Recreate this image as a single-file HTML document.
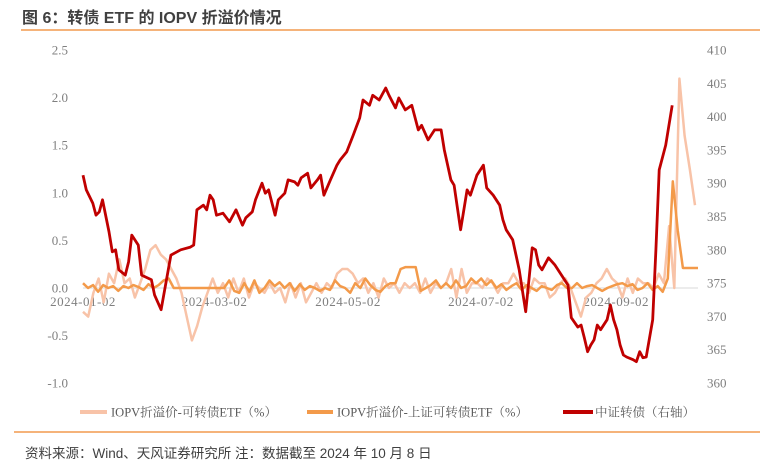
<!DOCTYPE html>
<html><head><meta charset="utf-8">
<style>
body{margin:0;background:#fff;width:760px;height:469px;overflow:hidden;font-family:"Liberation Sans","Noto Sans CJK SC",sans-serif;}
</style></head>
<body>
<svg width="760" height="469" viewBox="0 0 760 469" xmlns="http://www.w3.org/2000/svg">
<text x="22" y="23" font-size="16" font-weight="bold" fill="#404040" font-family="Liberation Sans, Noto Sans CJK SC, sans-serif">图 6：转债 ETF 的 IOPV 折溢价情况</text>
<line x1="21" y1="30" x2="760" y2="30" stroke="#f29a4f" stroke-width="1.5"/>
<g id="plot"></g>
<g id="legend" font-family="Liberation Serif, Noto Serif CJK SC, serif" font-size="12.5" fill="#595959">
<line x1="80" y1="412" x2="107" y2="412" stroke="#f8c3a8" stroke-width="4"/>
<text x="111" y="416.5">IOPV折溢价-可转债ETF（%）</text>
<line x1="307" y1="412" x2="333" y2="412" stroke="#f39a4a" stroke-width="4"/>
<text x="337" y="416.5">IOPV折溢价-上证可转债ETF（%）</text>
<line x1="563" y1="412" x2="593" y2="412" stroke="#c00000" stroke-width="4"/>
<text x="595" y="416.5">中证转债（右轴）</text>
</g>
<line x1="14" y1="432" x2="760" y2="432" stroke="#f29a4f" stroke-width="1.5"/>
<text x="25" y="458" font-size="13.5" fill="#404040">资料来源：Wind、天风证券研究所  注：数据截至 2024 年 10 月 8 日</text>
</svg>
<script>
const leftTicks=[2.5,2.0,1.5,1.0,0.5,0.0,-0.5,-1.0];
const leftTickLabels=["2.5","2.0","1.5","1.0","0.5","0.0","-0.5","-1.0"];
const rightTicks=[410,405,400,395,390,385,380,375,370,365,360];
const dateLabels=["2024-01-02","2024-03-02","2024-05-02","2024-07-02","2024-09-02"];
const dateFrac=[0.0,0.214,0.431,0.647,0.867];
const kzz=[-0.25,-0.3,-0.05,0.1,-0.15,0.15,0.05,0.3,0.05,0.1,-0.1,0.05,0.2,0.4,0.45,0.35,0.3,0.2,0.1,-0.05,-0.3,-0.55,-0.4,-0.2,-0.05,0.1,-0.05,0.05,-0.1,0.1,-0.05,0.1,-0.1,0.05,0.0,-0.05,0.05,-0.05,0.0,-0.15,0.05,-0.1,0.05,-0.15,-0.05,0.05,-0.05,0.05,0.0,0.15,0.2,0.2,0.15,0.05,0.1,-0.05,0.05,-0.1,0.1,0.0,0.05,-0.05,0.05,0.0,0.05,-0.05,0.1,-0.05,0.05,0.0,0.05,0.2,-0.1,0.2,-0.05,0.05,0.05,0.0,0.1,0.05,-0.05,0.05,0.05,0.15,0.05,0.05,-0.05,0.1,0.05,0.05,-0.1,-0.05,0.05,0.1,0.0,-0.15,-0.3,-0.1,-0.05,0.05,0.1,0.2,0.1,0.05,-0.1,0.1,-0.05,0.1,0.05,0.05,0.0,0.15,0.05,0.65,0.0,2.2,1.6,1.25,0.87];
const sz=[0.05,0.0,0.03,-0.04,0.03,0.0,0.02,-0.03,0.02,0.0,0.03,0.01,-0.02,0.04,0.0,0.03,0.08,0.1,0.0,0.0,0.0,0.0,0.0,0.0,0.0,0.0,0.0,0.0,0.0,0.08,-0.03,-0.05,0.05,-0.04,0.08,-0.05,0.0,0.08,0.02,0.06,0.0,0.05,-0.03,0.04,-0.02,0.02,0.0,-0.03,0.0,-0.02,0.08,0.02,0.0,-0.05,0.05,0.0,0.1,0.03,-0.02,-0.04,0.02,0.05,0.05,0.2,0.22,0.22,0.22,-0.03,0.0,0.03,0.08,0.0,0.05,0.0,0.08,0.0,0.02,0.1,0.05,0.1,0.03,0.08,0.0,0.04,-0.02,0.02,0.05,-0.02,0.03,0.0,-0.03,0.02,0.0,-0.02,0.03,0.05,0.0,0.0,0.05,0.0,0.02,0.03,0.0,-0.03,0.0,0.02,0.04,0.05,0.02,0.04,-0.02,0.0,0.05,-0.02,0.02,-0.04,0.1,1.12,0.6,0.21,0.21,0.21,0.21];
const csiDay=[0,1,3,4,5,6,8,9,10,11,13,14,15,17,18,21,22,24,27,30,33,34,35,37,38,39,40,41,43,45,47,49,50,52,53,55,56,57,59,60,62,63,65,66,67,69,70,72,73,74,76,78,79,81,83,85,86,88,89,91,93,94,96,97,99,101,103,104,106,108,110,111,113,114,116,118,119,121,123,124,126,128,129,130,132,134,136,138,139,140,141,143,145,147,149,150,152,153,154,155,156,157,158,159,161,162,163,164,165,166,167,169,170,171,172,173,175,176,177,179,181,183,185,188];
const csi=[391.2,389,387,385.2,385.7,387.5,382.7,379.7,380,377,376.2,378.2,382.2,380.7,376.2,375.5,373.2,371,379.2,380,380.4,380.7,386,386.7,386,388.2,387.5,385.2,385.5,384.2,386,383.7,384.8,385.7,387.5,390,388.5,389,385.2,387.5,388.5,390.5,390.2,389.7,390.8,391.5,389.3,390.5,391.2,388.2,390.5,392.7,393.5,394.7,397.2,399.8,402.5,401.7,403.2,402.5,404.3,403.2,401.3,402.8,401,401.7,398,398.7,396.5,398,398,395,390.5,389.7,383,389,388.2,391.2,392.7,389.3,388.2,386.7,384.5,383,381.5,377,370.7,380.3,380,377.7,377,378.8,377.7,376.2,374.7,369.8,368.4,368.7,366.8,364.7,365.7,366.5,368.7,368,369.5,371.7,369.5,368,365.7,364.2,363.9,363.5,363.2,364.7,363.8,363.9,369.5,380,392,395.7,401.7];
const X0=83,X1=698,NDAY=188;
function yL(v){return 288-(v/0.5)*47.6;}
function yR(v){return 50+(410-v)*(333/50);}
function xIdx(i,n){return X0+i*(X1-X0)/(n-1);}
function xDay(d){return X0+d*(695-X0)/NDAY;}
const NS="http://www.w3.org/2000/svg";
const plot=document.getElementById('plot');
function mk(tag,attrs){const e=document.createElementNS(NS,tag);for(const k in attrs)e.setAttribute(k,attrs[k]);plot.appendChild(e);return e;}
const serif="Liberation Serif, DejaVu Serif, serif";
leftTicks.forEach((v,i)=>{const t=mk('text',{x:68,y:yL(v)+4.5,'text-anchor':'end','font-size':13,fill:'#7f7f7f','font-family':serif});t.textContent=leftTickLabels[i];

});
rightTicks.forEach(v=>{const t=mk('text',{x:707,y:yR(v)+4.5,'font-size':13,fill:'#7f7f7f','font-family':serif});t.textContent=String(v);

});
const zl=mk('line',{x1:X0,y1:yL(0),x2:X1,y2:yL(0),stroke:'#d9d9d9','stroke-width':1});


dateLabels.forEach((s,i)=>{const t=mk('text',{x:X0+dateFrac[i]*(X1-X0),y:306,'text-anchor':'middle','font-size':13,fill:'#7f7f7f','font-family':serif,'letter-spacing':'0.5'});t.textContent=s;

});
function line(pts,color,w,name){const p=mk('polyline',{points:pts.map(q=>q[0].toFixed(1)+','+q[1].toFixed(1)).join(' '),fill:'none',stroke:color,'stroke-width':w,'stroke-linejoin':'round'});

}
line(kzz.map((v,i)=>[xIdx(i,kzz.length)-(i>=kzz.length-4?0:0),yL(v)]).map((q,i)=>[X0+i*(695-X0)/(kzz.length-1),q[1]]),'#f8c3a8',2.5,'series-kzz-etf');
line(sz.map((v,i)=>[xIdx(i,sz.length),yL(v)]),'#f39a4a',2.5,'series-sz-etf');
line(csi.map((v,i)=>[xDay(csiDay[i]),yR(v)]),'#c00000',2.8,'series-csi-cb');
</script>
</body></html>
